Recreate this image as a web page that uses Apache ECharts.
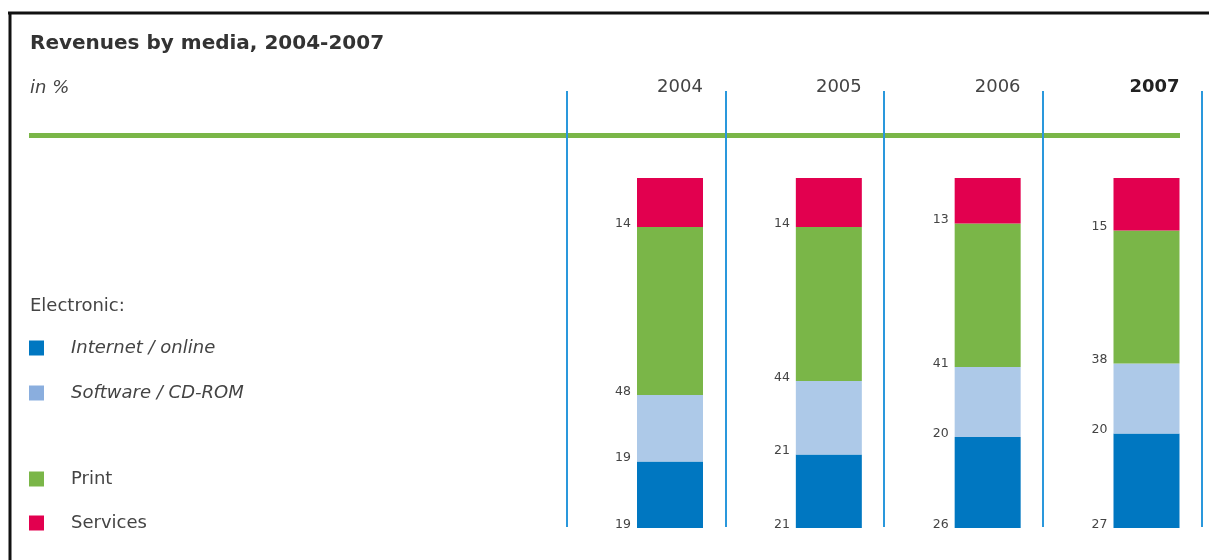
<!DOCTYPE html>
<html>
<head>
<meta charset="utf-8">
<script src="https://cdn.jsdelivr.net/npm/echarts@6/dist/echarts.min.js"></script>
<style>
html,body{margin:0;padding:0;background:#fff;}
#chart{width:1209px;height:560px;}
</style>
</head>
<body>
<div id="chart"></div>
<script>
const years = ['2004', '2005', '2006', '2007'];
const internet = [19, 21, 26, 27];
const software = [19, 21, 20, 20];
const print = [48, 44, 41, 38];
const services = [14, 14, 13, 15];
const seriesNames = ['Internet / online', 'Software / CD-ROM', 'Print', 'Services'];

const colors = {
  internet: '#0077c1',
  software: '#adc9e8',
  print: '#7ab648',
  services: '#e2004f',
  sep: '#2a98dc'
};
const FONT = '"DejaVu Sans", sans-serif';

const chart = echarts.init(document.getElementById('chart'));

const segLabel = {
  show: true,
  position: 'insideBottomLeft',
  distance: 0,
  align: 'right',
  verticalAlign: 'bottom',
  offset: [-6, 3],
  color: '#444',
  fontSize: 12.5,
  fontFamily: FONT
};

function barSeries(name, data, color) {
  return {
    name: name,
    type: 'bar',
    stack: 'total',
    xAxisIndex: 0,
    yAxisIndex: 0,
    barWidth: 66,
    data: data,
    itemStyle: { color: color },
    label: segLabel,
    emphasis: { disabled: true },
    animation: false
  };
}

const option = {
  animation: false,
  textStyle: { fontFamily: FONT },
  title: [
    { text: 'Revenues by media, 2004-2007', left: 25, top: 29,
      textStyle: { fontSize: 20, fontWeight: 'bold', color: '#333', fontFamily: FONT } },
    { text: 'in %', left: 25, top: 74,
      textStyle: { fontSize: 18, fontWeight: 'normal', fontStyle: 'italic', color: '#444', fontFamily: FONT } },
    { text: 'Electronic:', left: 25, top: 292,
      textStyle: { fontSize: 18, fontWeight: 'normal', color: '#444', fontFamily: FONT } }
  ],
  legend: [
    {
      data: [
        { name: seriesNames[0], textStyle: { fontStyle: 'italic' } },
        { name: seriesNames[1], textStyle: { fontStyle: 'italic' }, itemStyle: { color: '#8aaede' } }
      ],
      orient: 'vertical', left: 24, top: 334, itemGap: 27,
      itemWidth: 15, itemHeight: 15, icon: 'rect', selectedMode: false,
      textStyle: { fontSize: 18, color: '#444', fontFamily: FONT, padding: [0, 0, 0, 22] }
    },
    {
      data: [seriesNames[2], seriesNames[3]],
      orient: 'vertical', left: 24, top: 465, itemGap: 26,
      itemWidth: 15, itemHeight: 15, icon: 'rect', selectedMode: false,
      textStyle: { fontSize: 18, color: '#444', fontFamily: FONT, padding: [0, 0, 0, 22] }
    }
  ],
  grid: [
    { left: 670, top: 178, width: 476.5, height: 350, containLabel: false },
    { left: 566.5, top: 91, width: 635, height: 436, containLabel: false }
  ],
  xAxis: [
    {
      type: 'category', gridIndex: 0, data: years, position: 'top', boundaryGap: false,
      axisLine: { show: false }, axisTick: { show: false }, splitLine: { show: false },
      axisLabel: {
        margin: 82,
        formatter: function (v) { return v === '2007' ? '{b|' + v + '}' : '{n|' + v + '}'; },
        rich: {
          n: { fontSize: 18, color: '#444', fontFamily: FONT, padding: [0, 0, 0, 20] },
          b: { fontSize: 18, color: '#222', fontWeight: 'bold', fontFamily: FONT, padding: [0, 0, 0, 16] }
        }
      }
    },
    {
      type: 'category', gridIndex: 1, data: years,
      axisLine: { show: false }, axisTick: { show: false }, axisLabel: { show: false },
      splitLine: { show: true, showMinLine: true, showMaxLine: true, lineStyle: { color: colors.sep, width: 2 } }
    }
  ],
  yAxis: [
    { type: 'value', gridIndex: 0, min: 0, max: 100, show: false },
    { type: 'value', gridIndex: 1, min: 0, max: 1, show: false }
  ],
  graphic: [
    { type: 'line', shape: { x1: 8, y1: 13, x2: 1209, y2: 13 }, style: { stroke: '#111', lineWidth: 3 }, silent: true },
    { type: 'line', shape: { x1: 10, y1: 12, x2: 10, y2: 560 }, style: { stroke: '#111', lineWidth: 3 }, silent: true },
    { type: 'line', shape: { x1: 29, y1: 135.5, x2: 1180, y2: 135.5 }, style: { stroke: colors.print, lineWidth: 5 }, silent: true }
  ],
  series: [
    barSeries(seriesNames[0], internet, colors.internet),
    barSeries(seriesNames[1], software, colors.software),
    barSeries(seriesNames[2], print, colors.print),
    barSeries(seriesNames[3], services, colors.services)
  ]
};
chart.setOption(option);
</script>
</body>
</html>
